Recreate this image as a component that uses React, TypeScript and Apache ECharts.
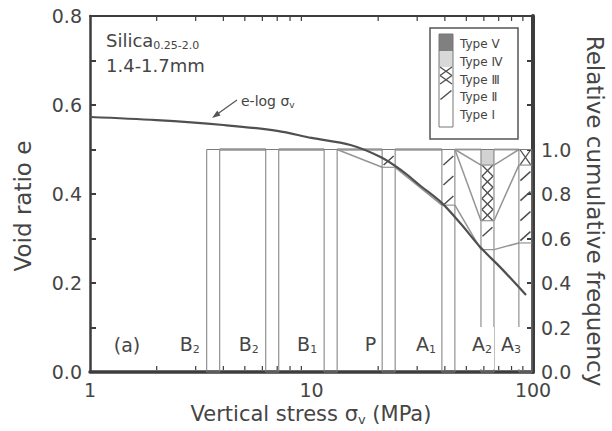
import React, { useEffect, useRef } from "react";
import * as echarts from "echarts";

// ---------------- data ----------------
// e - log sigma_v curve
const curveStress = [1, 2, 4, 7, 10, 15, 20.5, 25.3, 31.1, 38.7, 47.2, 58.2, 71.6, 93];
const curveVoid = [0.573, 0.566, 0.555, 0.542, 0.526, 0.51, 0.483, 0.454, 0.418, 0.38, 0.333, 0.279, 0.234, 0.173];

// relative frequency bars (stacked, cumulative to 1.0 on the right axis)
const barStress = [3.6, 6.65, 12.2, 22.3, 41.5, 62.3, 92.4];
const barName = ["B", "B", "B", "P", "A", "A", "A"];
const barSub = ["2", "2", "1", "", "1", "2", "3"];
const typeI = [1.0, 1.0, 1.0, 0.92, 0.75, 0.55, 0.58];
const typeII = [0, 0, 0, 0.08, 0.25, 0.13, 0.35];
const typeIII = [0, 0, 0, 0, 0, 0.25, 0.07];
const typeIV = [0, 0, 0, 0, 0, 0.07, 0];
const typeV = [0, 0, 0, 0, 0, 0, 0];

const minorTickStress = [2, 3, 4, 5, 6, 7, 8, 9, 20, 30, 40, 50, 60, 70, 80, 90];
const legendLabels = ["Type \u2164", "Type \u2163", "Type \u2162", "Type \u2161", "Type \u2160"];

// ---------------- styles ----------------
const FONT = "'DejaVu Sans', 'Noto Sans', sans-serif";
const INK = "#454545";
const AXIS = "#3d3d3d";
const BAR_LINE = "#7a7a7a";
const CUM_LINE = "#959595";
const HATCH = "#4e4e4e";
const BAR_HALF = 6.5;
const labelDx = [-5, -5, -5, -4, -4, 13, 4];

function seg(x1: number, y1: number, x2: number, y2: number, stroke: string, lineWidth: number) {
  return { type: "line", shape: { x1, y1, x2, y2 }, style: { stroke, lineWidth } };
}

function slashHatch(x0: number, x1: number, yTop: number, yBot: number, out: any[]) {
  const step = 20;
  for (let yc = yTop + 11; yc < yBot; yc += step) {
    out.push(seg(x0 + 1.5, Math.min(yc + 4.5, yBot), x1 - 1.5, Math.max(yc - 4.5, yTop), HATCH, 1.5));
  }
}

function crossHatch(x0: number, x1: number, yTop: number, yBot: number, out: any[]) {
  const h = yBot - yTop;
  const n = Math.max(1, Math.round(h / 11));
  const ch = h / n;
  for (let k = 0; k < n; k++) {
    const a = yTop + k * ch;
    const b = a + ch;
    out.push(seg(x0 + 1, a, x1 - 1, b, HATCH, 1.3));
    out.push(seg(x0 + 1, b, x1 - 1, a, HATCH, 1.3));
  }
}

function cumulative(i: number) {
  const c1 = typeI[i];
  const c2 = c1 + typeII[i];
  const c3 = c2 + typeIII[i];
  const c4 = c3 + typeIV[i];
  const c5 = c4 + typeV[i];
  return [0, c1, c2, c3, c4, c5];
}

const richLabel = {
  b: { fontSize: 19, fontFamily: FONT, fill: INK, lineHeight: 22 },
  s: { fontSize: 11, fontFamily: FONT, fill: INK, lineHeight: 10, verticalAlign: "bottom" },
};

function renderBar(params: any, api: any) {
  const i = params.dataIndex;
  const s = api.value(0);
  const vals = [api.value(1), api.value(2), api.value(3), api.value(4), api.value(5)];
  const cums = [0];
  vals.forEach((v: number, k: number) => cums.push(cums[k] + v));
  const cx = api.coord([s, 0])[0];
  const x0 = cx - BAR_HALF;
  const x1 = cx + BAR_HALF;
  const Y = (v: number) => api.coord([s, v])[1];
  const children: any[] = [];

  if (vals[4] > 0) {
    children.push({ type: "rect", shape: { x: x0, y: Y(cums[5]), width: 2 * BAR_HALF, height: Y(cums[4]) - Y(cums[5]) }, style: { fill: "#808080" } });
  }
  if (vals[3] > 0) {
    children.push({ type: "rect", shape: { x: x0, y: Y(cums[4]), width: 2 * BAR_HALF, height: Y(cums[3]) - Y(cums[4]) }, style: { fill: "#d2d2d2" } });
  }
  if (vals[2] > 0) crossHatch(x0, x1, Y(cums[3]), Y(cums[2]), children);
  if (vals[1] > 0) slashHatch(x0, x1, Y(cums[2]), Y(cums[1]), children);

  // outline and inner boundaries
  children.push({
    type: "rect",
    shape: { x: x0, y: Y(cums[5]), width: 2 * BAR_HALF, height: Y(0) - Y(cums[5]) },
    style: { fill: "none", stroke: BAR_LINE, lineWidth: 1 },
  });
  for (let k = 1; k < 5; k++) {
    if (cums[k] > 0 && cums[k] < cums[5] - 1e-6) {
      children.push(seg(x0, Y(cums[k]), x1, Y(cums[k]), CUM_LINE, 1.2));
    }
  }

  // cumulative-frequency connectors to the next bar
  if (i < barStress.length - 1) {
    const ns = barStress[i + 1];
    const nx0 = api.coord([ns, 0])[0] - BAR_HALF;
    const nc = cumulative(i + 1);
    for (let k = 1; k <= 5; k++) {
      children.push(seg(x1, Y(cums[k]), nx0, api.coord([ns, nc[k]])[1], CUM_LINE, 1.5));
    }
  }

  // label
  const text = barSub[i] ? `{b|${barName[i]}}{s|${barSub[i]}}` : `{b|${barName[i]}}`;
  children.push({
    type: "text",
    x: x0 + labelDx[i],
    y: Y(0) - 24,
    style: {
      text,
      rich: richLabel,
      align: "right",
      verticalAlign: "middle",
      backgroundColor: "#fff",
      padding: [6, 2, 14, 1],
    },
    z2: 10,
  });

  return { type: "group", children };
}

function renderMinorTick(params: any, api: any) {
  const v = api.value(0);
  const b = api.coord([v, 0]);
  const t = api.coord([v, 0.8]);
  return {
    type: "group",
    children: [seg(b[0], b[1] - 2, b[0], b[1] - 6, AXIS, 1.2), seg(t[0], t[1] + 1, t[0], t[1] + 5, AXIS, 1.2)],
  };
}

function buildLegend() {
  const out: any[] = [];
  const bx = 430, by = 28, bw = 88, bh = 111;
  out.push({ type: "rect", shape: { x: bx, y: by, width: bw, height: bh }, style: { fill: "#fff", stroke: "#555", lineWidth: 1.5 } });
  const ix0 = 439, ix1 = 453;
  const rows = [34, 51, 67, 84, 101, 127];
  out.push({ type: "rect", shape: { x: ix0, y: rows[0], width: ix1 - ix0, height: rows[1] - rows[0] }, style: { fill: "#808080" } });
  out.push({ type: "rect", shape: { x: ix0, y: rows[1], width: ix1 - ix0, height: rows[2] - rows[1] }, style: { fill: "#d8d8d8" } });
  crossHatch(ix0, ix1, rows[2], rows[3], out);
  slashHatch(ix0, ix1, rows[3], rows[4], out);
  out.push({ type: "rect", shape: { x: ix0, y: rows[0], width: ix1 - ix0, height: rows[5] - rows[0] }, style: { fill: "none", stroke: "#777", lineWidth: 1 } });
  const ty = [44, 62, 80, 97, 115];
  legendLabels.forEach((t, k) => {
    out.push({ type: "text", x: 460, y: ty[k], style: { text: t, fontSize: 12, fontFamily: FONT, fill: INK, align: "left", verticalAlign: "middle" } });
  });
  return out;
}

function buildAnnotations() {
  const out: any[] = [];
  out.push({
    type: "text",
    x: 106,
    y: 40,
    style: {
      text: "{a|Silica}{b|0.25-2.0}",
      rich: {
        a: { fontSize: 18, fontFamily: FONT, fill: INK, lineHeight: 22 },
        b: { fontSize: 11, fontFamily: FONT, fill: INK, lineHeight: 12, verticalAlign: "bottom" },
      },
      align: "left",
      verticalAlign: "middle",
    },
  });
  out.push({ type: "text", x: 106, y: 65, style: { text: "1.4-1.7mm", fontSize: 18, fontFamily: FONT, fill: INK, align: "left", verticalAlign: "middle" } });
  out.push({ type: "text", x: 127, y: 345, style: { text: "(a)", fontSize: 19, fontFamily: FONT, fill: INK, align: "center", verticalAlign: "middle" } });
  // e-log annotation
  out.push({
    type: "text",
    x: 241,
    y: 101,
    style: {
      text: "{a|e-log σ}{b|v}",
      rich: {
        a: { fontSize: 14, fontFamily: FONT, fill: INK, lineHeight: 16 },
        b: { fontSize: 9, fontFamily: FONT, fill: INK, lineHeight: 9, verticalAlign: "bottom" },
      },
      align: "left",
      verticalAlign: "middle",
    },
  });
  out.push(seg(237, 100, 216, 115, "#555", 1.2));
  out.push({ type: "polygon", shape: { points: [[212, 118], [220.5, 115.5], [217.3, 110.5]] }, style: { fill: "#555" } });
  // axis titles
  out.push({
    type: "text",
    x: 311,
    y: 414,
    style: {
      text: "{a|Vertical stress σ}{b|v}{a| (MPa)}",
      rich: {
        a: { fontSize: 21, fontFamily: FONT, fill: INK, lineHeight: 24 },
        b: { fontSize: 13, fontFamily: FONT, fill: INK, lineHeight: 13, verticalAlign: "bottom" },
      },
      align: "center",
      verticalAlign: "middle",
    },
  });
  out.push({
    type: "text",
    x: 23,
    y: 206,
    rotation: Math.PI / 2,
    style: { text: "Void ratio e", fontSize: 23, fontFamily: FONT, fill: INK, align: "center", verticalAlign: "middle" },
  });
  out.push({
    type: "text",
    x: 595,
    y: 211,
    rotation: -Math.PI / 2,
    style: { text: "Relative cumulative frequency", fontSize: 23, fontFamily: FONT, fill: INK, align: "center", verticalAlign: "middle" },
  });
  return out;
}

const option: any = {
  animation: false,
  backgroundColor: "#fff",
  grid: { left: 90, right: 79, top: 16, bottom: 59 },
  xAxis: [
    {
      type: "log",
      logBase: 10,
      min: 1,
      max: 100,
      position: "bottom",
      axisLine: { onZero: false, lineStyle: { color: AXIS, width: 3.5 } },
      axisTick: { show: false },
      axisLabel: { fontFamily: FONT, fontSize: 19, color: INK, margin: 8 },
      splitLine: { show: false },
      minorTick: { show: false },
    },
    {
      type: "log",
      logBase: 10,
      min: 1,
      max: 100,
      position: "top",
      axisLine: { onZero: false, lineStyle: { color: AXIS, width: 2 } },
      axisTick: { show: false },
      axisLabel: { show: false },
      splitLine: { show: false },
    },
  ],
  yAxis: [
    {
      type: "value",
      min: 0,
      max: 0.8,
      interval: 0.1,
      position: "left",
      axisLine: { show: true, onZero: false, lineStyle: { color: AXIS, width: 2.5 } },
      axisTick: { show: true, inside: true, length: 6, lineStyle: { color: AXIS, width: 2 } },
      axisLabel: {
        fontFamily: FONT,
        fontSize: 19,
        color: INK,
        margin: 8,
        formatter: (v: number) => {
          const t = Math.round(v * 10);
          return t % 2 === 0 ? (t / 10).toFixed(1) : "";
        },
      },
      splitLine: { show: false },
    },
    {
      type: "value",
      min: 0,
      max: 1.6,
      interval: 0.2,
      position: "right",
      axisLine: { show: true, onZero: false, lineStyle: { color: AXIS, width: 4 } },
      axisTick: { show: true, inside: true, length: 6, lineStyle: { color: AXIS, width: 2 } },
      axisLabel: {
        fontFamily: FONT,
        fontSize: 19,
        color: INK,
        margin: 8,
        formatter: (v: number) => (v <= 1.0001 ? v.toFixed(1) : ""),
      },
      splitLine: { show: false },
    },
  ],
  series: [
    {
      type: "custom",
      name: "frequency",
      xAxisIndex: 0,
      yAxisIndex: 1,
      z: 2,
      silent: true,
      data: barStress.map((s, i) => [s, typeI[i], typeII[i], typeIII[i], typeIV[i], typeV[i]]),
      renderItem: renderBar,
    },
    {
      type: "line",
      name: "e-log σv",
      xAxisIndex: 0,
      yAxisIndex: 0,
      z: 4,
      smooth: 0.35,
      symbol: "none",
      lineStyle: { color: "#505050", width: 2.2 },
      data: curveStress.map((s, i) => [s, curveVoid[i]]),
    },
    {
      type: "custom",
      name: "minorTicks",
      xAxisIndex: 0,
      yAxisIndex: 0,
      z: 5,
      silent: true,
      data: minorTickStress.map((v) => [v, 0]),
      renderItem: renderMinorTick,
    },
  ],
  graphic: { elements: [...buildLegend(), ...buildAnnotations()] },
};

export default function App() {
  const ref = useRef<HTMLDivElement>(null);
  useEffect(() => {
    const chart = echarts.init(ref.current!, null, { renderer: "svg" });
    chart.setOption(option);
    return () => chart.dispose();
  }, []);
  return (
    <div
      ref={ref}
      style={{ position: "fixed", left: 0, top: 0, width: 612, height: 431, background: "#fff" }}
    />
  );
}
